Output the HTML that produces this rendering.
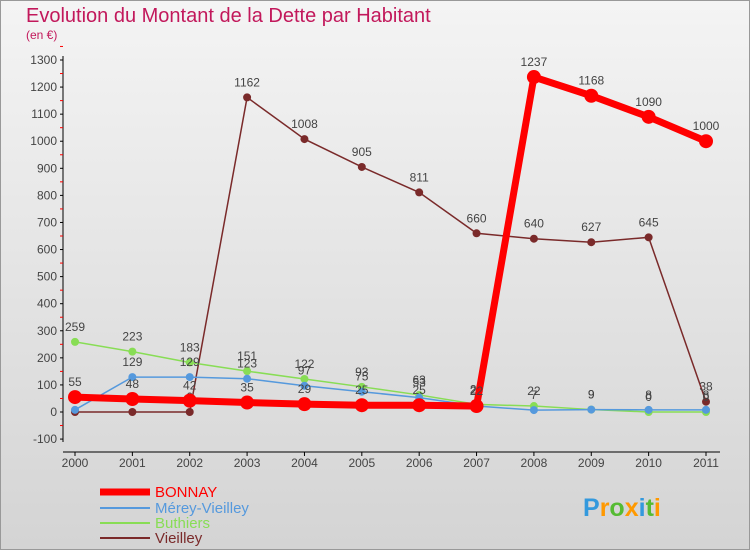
<!DOCTYPE html>
<html><head><meta charset="utf-8"><style>
body{margin:0;width:750px;height:550px;overflow:hidden;font-family:"Liberation Sans",sans-serif}
#c{position:absolute;left:0;top:0;width:748px;height:548px;border:1px solid #999;background:linear-gradient(#f4f4f4,#d4d4d4)}
</style></head><body>
<div id="c"></div>
<svg id="s" width="750" height="550" style="position:absolute;left:0;top:0">
<text x="26" y="22" font-size="20" fill="#c2185b">Evolution du Montant de la Dette par Habitant</text>
<text x="26" y="39" font-size="12" fill="#c2185b">(en €)</text>
<g id="ax"></g><g id="ser"></g>
<g font-size="15">
<line x1="100" y1="492" x2="150" y2="492" stroke="#ff0000" stroke-width="7"/>
<text x="155" y="497" fill="#ff0000">BONNAY</text>
<line x1="100" y1="508" x2="150" y2="508" stroke="#5599dd" stroke-width="2"/>
<text x="155" y="513" fill="#5599dd">Mérey-Vieilley</text>
<line x1="100" y1="523" x2="150" y2="523" stroke="#88dd55" stroke-width="2"/>
<text x="155" y="528" fill="#88dd55">Buthiers</text>
<line x1="100" y1="538" x2="150" y2="538" stroke="#7a2a2a" stroke-width="2"/>
<text x="155" y="543" fill="#7a2a2a">Vieilley</text>
</g>
<text x="583" y="516" font-size="25" font-weight="bold" fill="#3399dd">P<tspan fill="#ff9900">r</tspan><tspan fill="#55bb33">o</tspan><tspan fill="#ff9900">x</tspan><tspan fill="#3399dd">i</tspan><tspan fill="#55bb33">t</tspan><tspan fill="#ff9900">i</tspan></text>
</svg>
<script>
const years=[2000,2001,2002,2003,2004,2005,2006,2007,2008,2009,2010,2011];
const yTicks=[-100,0,100,200,300,400,500,600,700,800,900,1000,1100,1200,1300];
const bonnay=[55,48,42,35,29,25,25,22,1237,1168,1090,1000];
const merey=[8,129,129,123,97,75,53,22,7,9,8,8];
const buthiers=[259,223,183,151,122,93,63,28,22,9,0,0];
const vieilley=[0,0,0,1162,1008,905,811,660,640,627,645,38];
const NS="http://www.w3.org/2000/svg";
const X=i=>75+i*(706-75)/11;
const Y=v=>412-v*352/1300;
function mk(t,a,p){const e=document.createElementNS(NS,t);for(const k in a)e.setAttribute(k,a[k]);p.appendChild(e);return e;}
const ax=document.getElementById('ax'),ser=document.getElementById('ser');
let l=mk('line',{x1:63,y1:56,x2:63,y2:442,stroke:'#000'},ax);


l=mk('line',{x1:63,y1:452,x2:720,y2:452,stroke:'#000'},ax);


yTicks.forEach(v=>{
 mk('line',{x1:60,y1:Y(v),x2:63,y2:Y(v),stroke:'#000'},ax);
 mk('line',{x1:60,y1:Y(v+50),x2:63,y2:Y(v+50),stroke:'#f00'},ax);
 const t=mk('text',{x:57,y:Y(v)+4,'font-size':12,'text-anchor':'end',fill:'#444'},ax);t.textContent=v;
 
 
});
years.forEach((y,i)=>{
 mk('line',{x1:X(i),y1:452,x2:X(i),y2:456,stroke:'#000'},ax);
 const t=mk('text',{x:X(i),y:467,'font-size':12,'text-anchor':'middle',fill:'#444'},ax);t.textContent=y;
 
 
});
function series(d,col,w,r,name){
 const g=mk('g',{},ser);
 
 
 const p=mk('polyline',{points:d.map((v,i)=>X(i)+','+Y(v)).join(' '),fill:'none',stroke:col,'stroke-width':w},g);
 
 
 d.forEach((v,i)=>{
  const c=mk('circle',{cx:X(i),cy:Y(v),r:r,fill:col},g);
  
  
  const t=mk('text',{x:X(i),y:Y(v)-11,'font-size':12,'text-anchor':'middle',fill:'#444'},g);t.textContent=v;
  
  
 });
}
series(vieilley,'#7a2a2a',1.5,4,'vieilley');
series(buthiers,'#88dd55',1.5,4,'buthiers');
series(merey,'#5599dd',1.5,4,'merey-vieilley');
series(bonnay,'#ff0000',7,7,'bonnay');
</script>
</body></html>
